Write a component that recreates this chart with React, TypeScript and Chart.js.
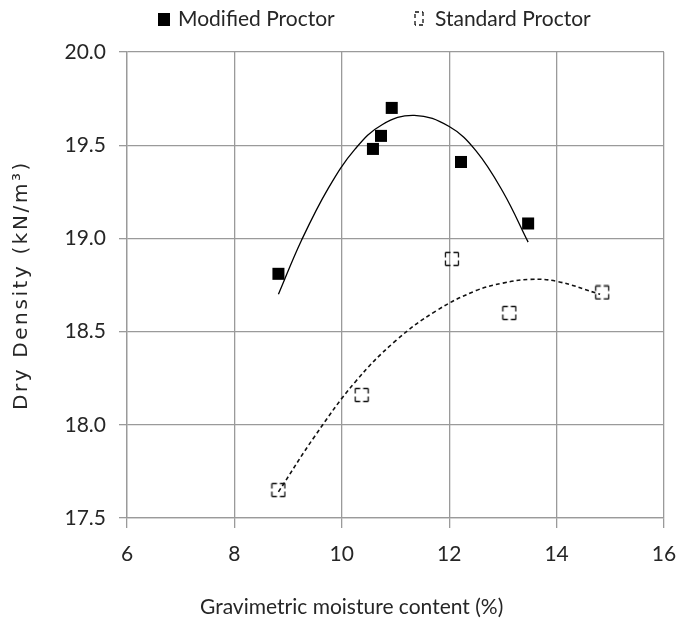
import React, { useEffect, useRef } from "react";
import { Chart, registerables } from "chart.js";

Chart.register(...registerables);

// ---- data ----
const modifiedMoisture = [8.82, 10.58, 10.73, 10.93, 12.22, 13.47];
const modifiedDensity = [18.81, 19.48, 19.55, 19.7, 19.41, 19.08];

const standardMoisture = [8.82, 10.37, 12.05, 13.12, 14.85];
const standardDensity = [17.65, 18.16, 18.89, 18.6, 18.71];

// trend curves as traced on the reference
const modifiedTrendMoisture = [8.82, 9.25, 9.75, 10.25, 10.75, 11.35, 12.0, 12.5, 13.0, 13.47];
const modifiedTrendDensity = [18.7, 18.99, 19.27, 19.48, 19.61, 19.66, 19.6, 19.47, 19.25, 18.98];

const standardTrendMoisture = [8.82, 9.5, 10.25, 11.0, 11.75, 12.5, 13.0, 13.5, 14.0, 14.81];
const standardTrendDensity = [17.64, 17.94, 18.23, 18.45, 18.61, 18.72, 18.76, 18.78, 18.77, 18.7];

const xTickValues = [6, 8, 10, 12, 14, 16];
const yTickValues = [17.5, 18.0, 18.5, 19.0, 19.5, 20.0];

const seriesLabels = ["Modified Proctor", "Standard Proctor"];
const xTitle = "Gravimetric moisture content (%)";
const yTitle = "Dry Density (kN/m\u00B3)";

const FONT = "Lato, 'Liberation Sans', sans-serif";
const TEXT = "#262626";
const GRID = "#9a9a9a";

function pairs(xs: number[], ys: number[]) {
  return xs.map((x, i) => ({ x, y: ys[i] }));
}

function dashedSquare(ctx: CanvasRenderingContext2D, x: number, y: number, w: number, h: number, dash: number[]) {
  ctx.save();
  ctx.strokeStyle = "#111";
  ctx.lineWidth = 1.3;
  ctx.setLineDash(dash);
  const sides = [
    [x, y, x + w, y],
    [x + w, y, x + w, y + h],
    [x + w, y + h, x, y + h],
    [x, y + h, x, y],
  ];
  for (const s of sides) {
    ctx.beginPath();
    ctx.moveTo(s[0], s[1]);
    ctx.lineTo(s[2], s[3]);
    ctx.stroke();
  }
  ctx.restore();
}

function makeOpenMarker() {
  const c = document.createElement("canvas");
  c.width = 16;
  c.height = 16;
  const ctx = c.getContext("2d")!;
  dashedSquare(ctx, 1.5, 1.5, 13, 13, [5, 3]);
  return c;
}

const overlayPlugin = {
  id: "overlay",
  afterDraw(chart: any) {
    const ctx: CanvasRenderingContext2D = chart.ctx;
    const ds = chart.data.datasets;
    ctx.save();
    ctx.textAlign = "left";
    ctx.textBaseline = "alphabetic";
    ctx.font = `21px ${FONT}`;
    // legend
    ctx.fillStyle = "#000";
    ctx.fillRect(158, 13, 12, 13);
    ctx.fillStyle = TEXT;
    ctx.fillText(ds[0].label, 178, 26);
    dashedSquare(ctx, 415, 12, 8, 13, [4, 3]);
    ctx.fillStyle = TEXT;
    ctx.fillText(ds[1].label, 435, 26);
    // x title
    ctx.fillText(xTitle, 200, 614);
    // y title
    ctx.translate(27, 285);
    ctx.rotate(-Math.PI / 2);
    ctx.font = `20px 'DejaVu Sans', sans-serif`;
    (ctx as any).letterSpacing = "2.6px";
    ctx.textAlign = "center";
    ctx.fillText(yTitle, 0, 0);
    (ctx as any).letterSpacing = "0px";
    ctx.restore();
  },
};

export default function App() {
  const ref = useRef<HTMLCanvasElement | null>(null);

  useEffect(() => {
    if (!ref.current) return;
    const openMarker = makeOpenMarker();
    const chart = new Chart(ref.current, {
      type: "scatter",
      data: {
        datasets: [
          {
            label: seriesLabels[0],
            data: pairs(modifiedMoisture, modifiedDensity),
            pointStyle: "rect",
            pointRadius: 8.5,
            pointHoverRadius: 8.5,
            backgroundColor: "#000",
            borderColor: "#000",
            borderWidth: 0,
            order: 2,
          },
          {
            label: seriesLabels[1],
            data: pairs(standardMoisture, standardDensity),
            pointStyle: openMarker as any,
            pointRadius: 8,
            backgroundColor: "rgba(0,0,0,0)",
            borderColor: "#111",
            order: 2,
          },
          {
            label: "trend-modified",
            data: pairs(modifiedTrendMoisture, modifiedTrendDensity),
            showLine: true,
            pointRadius: 0,
            borderColor: "#000",
            borderWidth: 1.3,
            tension: 0.4,
            order: 1,
          } as any,
          {
            label: "trend-standard",
            data: pairs(standardTrendMoisture, standardTrendDensity),
            showLine: true,
            pointRadius: 0,
            borderColor: "#111",
            borderWidth: 1.6,
            borderDash: [4, 3],
            tension: 0.4,
            order: 1,
          } as any,
        ],
      },
      options: {
        responsive: false,
        animation: false,
        layout: { padding: { top: 52, right: 13, left: 0, bottom: 0 } },
        plugins: {
          legend: { display: false },
          tooltip: { enabled: false },
        },
        scales: {
          x: {
            type: "linear",
            min: 6,
            max: 16,
            afterBuildTicks: (scale: any) => {
              scale.ticks = xTickValues.map((v) => ({ value: v }));
            },
            afterFit: (scale: any) => {
              scale.height = 107;
              scale.paddingLeft = 0;
              scale.paddingRight = 0;
            },
            ticks: {
              color: TEXT,
              font: { family: FONT, size: 21 },
              padding: 14,
              maxRotation: 0,
              callback: (v: any) => String(v),
            },
            grid: { color: GRID, lineWidth: 1.3, tickLength: 10, drawTicks: true },
            border: { color: GRID, width: 1.3 },
          },
          y: {
            type: "linear",
            min: 17.5,
            max: 20,
            afterBuildTicks: (scale: any) => {
              scale.ticks = yTickValues.map((v) => ({ value: v }));
            },
            afterFit: (scale: any) => {
              scale.width = 127;
              scale.paddingTop = 0;
              scale.paddingBottom = 0;
            },
            ticks: {
              color: TEXT,
              font: { family: FONT, size: 21 },
              padding: 13,
              callback: (v: any) => Number(v).toFixed(1),
            },
            grid: { color: GRID, lineWidth: 1.3, tickLength: 8, drawTicks: true },
            border: { color: GRID, width: 1.3 },
          },
        },
      },
      plugins: [overlayPlugin],
    });
    return () => chart.destroy();
  }, []);

  return (
    <div style={{ position: "absolute", left: 0, top: 0, width: 677, height: 625, background: "#fff" }}>
      <canvas ref={ref} width={677} height={625} />
    </div>
  );
}
